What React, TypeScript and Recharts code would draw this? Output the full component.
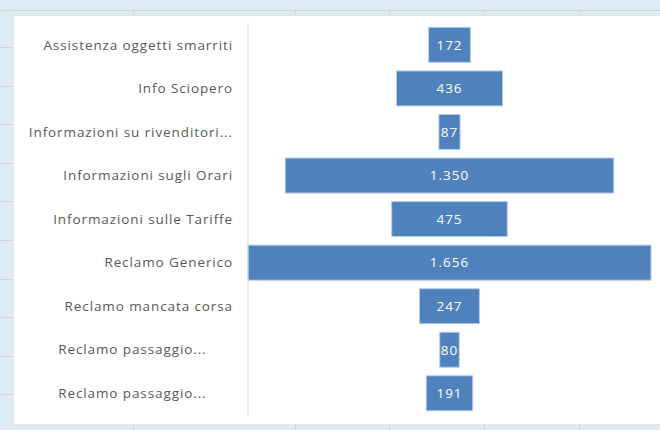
import { BarChart, Bar, XAxis, YAxis, LabelList } from "recharts"

const categories = [
  "Assistenza oggetti smarriti",
  "Info Sciopero",
  "Informazioni su rivenditori...",
  "Informazioni sugli Orari",
  "Informazioni sulle Tariffe",
  "Reclamo Generico",
  "Reclamo mancata corsa",
  "Reclamo passaggio...",
  "Reclamo passaggio...",
]
const values = [172, 436, 87, 1350, 475, 1656, 247, 80, 191]

const maxValue = Math.max(...values)
const data = categories.map((name, i) => ({
  name,
  pad: (maxValue - values[i]) / 2,
  value: values[i],
}))

// 1350 -> "1.350"
const fmt = (v: any) => String(v).replace(/\B(?=(\d{3})+(?!\d))/g, ".")

// truncated labels in the original keep the width of the wrapped text
const tickFmt = (v: string) => (v.startsWith("Reclamo passaggio") ? v + "\u00a0".repeat(6) : v)

const colLines = [133, 295, 389, 484, 579]
const rowLines = [47, 86, 124, 163, 201, 240, 279, 317, 356, 394]

export default function App() {
  return (
    <div
      style={{
        position: "absolute",
        left: 0,
        top: 0,
        width: 660,
        height: 430,
        overflow: "hidden",
        background: "#deedf5",
        fontFamily: "'Open Sans', sans-serif",
      }}
    >
      {/* spreadsheet grid behind the chart */}
      <div style={{ position: "absolute", left: 0, top: 10, width: 660, height: 1, background: "#d2d6d9" }} />
      {colLines.map((x) => (
        <div key={x} style={{ position: "absolute", left: x, top: 10, width: 1, height: 420, background: "#d2d6d9" }} />
      ))}
      {rowLines.map((y) => (
        <div key={y} style={{ position: "absolute", left: 0, top: y, width: 14, height: 1, background: "#d2d6d9" }} />
      ))}
      <div
        style={{
          position: "absolute",
          left: 13,
          top: 15,
          width: 660,
          height: 408,
          background: "#ffffff",
          border: "1px solid #e3e3e3",
        }}
      />
      <div style={{ position: "absolute", left: 0, top: 0 }}>
        <BarChart
          width={660}
          height={430}
          data={data}
          layout="vertical"
          margin={{ top: 23, right: 9, bottom: 15, left: 0 }}
        >
          <XAxis type="number" hide domain={[0, maxValue]} />
          <YAxis
            type="category"
            dataKey="name"
            width={248}
            tickLine={false}
            tickSize={6}
            tickMargin={9}
            axisLine={{ stroke: "#d9d9d9" }}
            tick={{ fill: "#595959", fontSize: 13.5, letterSpacing: 0.9 }}
            tickFormatter={tickFmt}
            interval={0}
          />
          <Bar dataKey="pad" stackId="f" fill="transparent" isAnimationActive={false} />
          <Bar
            dataKey="value"
            stackId="f"
            fill="#4f81bd"
            stroke="#b9cde6"
            strokeWidth={1}
            barSize={40}
            isAnimationActive={false}
          >
            <LabelList
              dataKey="value"
              position="center"
              fill="#ffffff"
              fontSize={13.5}
              letterSpacing={1}
              formatter={fmt}
            />
          </Bar>
        </BarChart>
      </div>
    </div>
  )
}
